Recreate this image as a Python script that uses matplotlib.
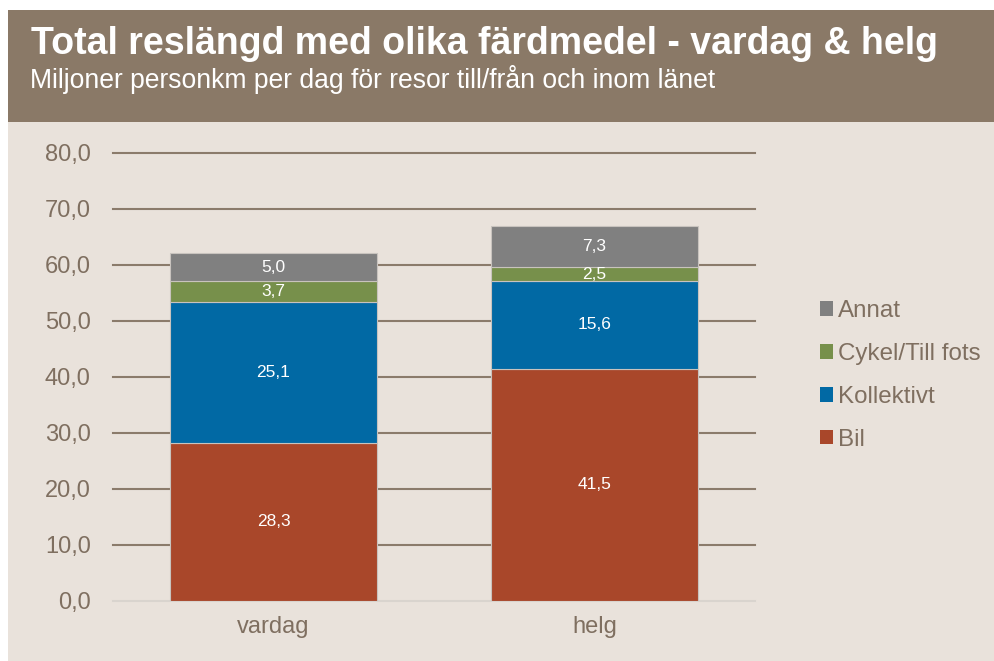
import matplotlib
matplotlib.use("Agg")
import matplotlib.pyplot as plt
from matplotlib.patches import Rectangle, Patch
import numpy as np

# data (miljoner personkm per dag)
categories = ["vardag", "helg"]
bil = [28.3, 41.5]
kollektivt = [25.1, 15.6]
cykel = [3.7, 2.5]
annat = [5.0, 7.3]

series_names = ["Bil", "Kollektivt", "Cykel/Till fots", "Annat"]
series_vals = [bil, kollektivt, cykel, annat]
series_cols = ["#A9472A", "#0169A4", "#77904B", "#808080"]
yticks = [0, 10, 20, 30, 40, 50, 60, 70, 80]

plt.rcParams["font.family"] = ["Liberation Sans", "DejaVu Sans"]

W, H = 995, 661
fig = plt.figure(figsize=(W / 100, H / 100), dpi=100, facecolor="white")

# beige panel and brown header band (behind everything)
fig.patches.append(Rectangle((8 / W, 0), 1 - 8 / W, 1 - 10 / H, transform=fig.transFigure,
                             facecolor="#E9E2DB", edgecolor="none", zorder=-10))
fig.patches.append(Rectangle((8 / W, 1 - 122 / H), 1 - 8 / W, 112 / H, transform=fig.transFigure,
                             facecolor="#8A7967", edgecolor="none", zorder=-10))

fig.text(31 / W, 1 - 54 / H, "Total reslängd med olika färdmedel - vardag & helg",
         color="white", fontsize=27, fontweight="bold", va="baseline", ha="left")
fig.text(30 / W, 1 - 88 / H, "Miljoner personkm per dag för resor till/från och inom länet",
         color="white", fontsize=19.1, va="baseline", ha="left")

ax = fig.add_axes([113 / W, 60 / H, (755 - 113) / W, (601 - 153) / H])
ax.set_facecolor("none")
ax.set_zorder(2)

x = np.arange(len(categories))
bottom = np.zeros(len(categories))
handles = []
for name, vals, col in zip(series_names, series_vals, series_cols):
    vals = np.array(vals)
    ax.bar(x, vals, width=0.645, bottom=bottom, color=col, edgecolor="#C8C3BE",
           linewidth=0.8, zorder=3)
    for xi, b, v in zip(x, bottom, vals):
        ax.text(xi, b + v / 2, f"{v:.1f}".replace(".", ","), ha="center", va="center",
                color="white", fontsize=12.5, zorder=4)
    bottom = bottom + vals
    handles.append(Patch(facecolor=col, edgecolor="none", label=name))

ax.set_xlim(-0.5, 1.5)
ax.set_ylim(0, 80)
ax.set_yticks(yticks)
ax.set_yticklabels([f"{t:.1f}".replace(".", ",") for t in yticks])
ax.set_xticks(x)
ax.set_xticklabels(categories)
ax.tick_params(axis="both", length=0, labelsize=17, labelcolor="#7F6F60")
ax.tick_params(axis="y", pad=16)
ax.tick_params(axis="x", pad=11)

for t in yticks[1:]:
    ax.axhline(t, color="#8B7B6B", linewidth=1.5, zorder=1, clip_on=False)
ax.axhline(0, color="#D9D4CE", linewidth=1.5, zorder=1, clip_on=False)
for s in ax.spines.values():
    s.set_visible(False)

leg = fig.legend(handles=handles[::-1], loc="center left",
                 bbox_to_anchor=(820 / W, 1 - 375.5 / H), frameon=False,
                 fontsize=17.4, handlelength=0.55, handleheight=0.55,
                 handletextpad=0.2, labelspacing=0.86, borderpad=0, borderaxespad=0)
for txt in leg.get_texts():
    txt.set_color("#7F6F60")

fig.savefig("out.png", dpi=100, facecolor="white")
